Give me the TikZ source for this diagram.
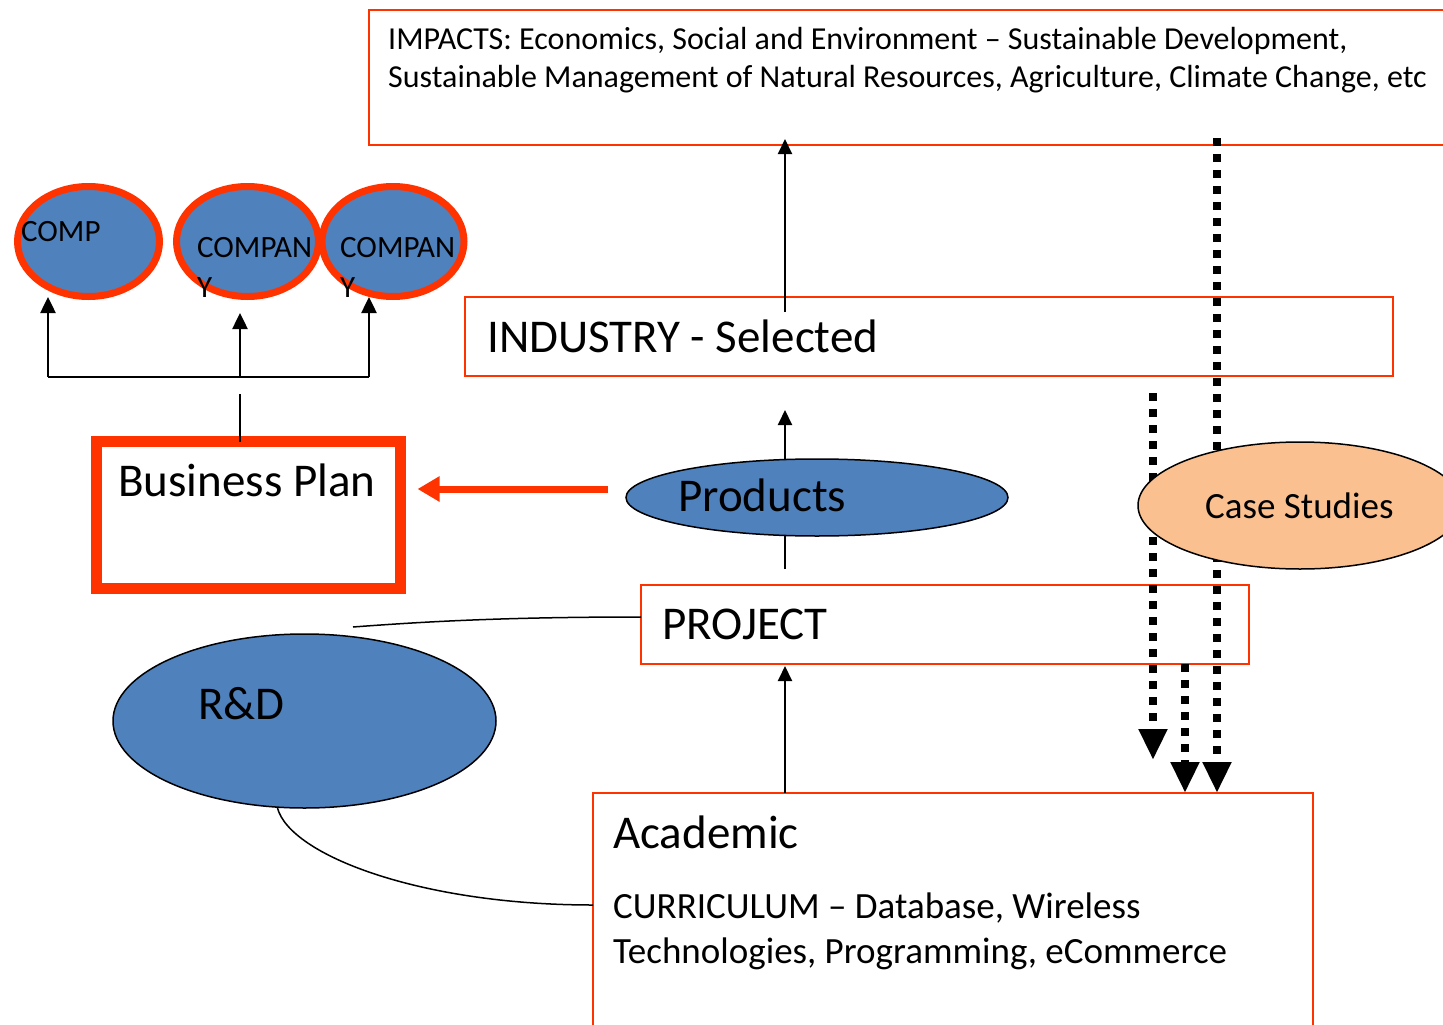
\documentclass[tikz,border=0pt]{standalone}
\usepackage{fontspec}
\setmainfont{Carlito}
\usetikzlibrary{arrows.meta,shapes.geometric,calc}
\definecolor{redor}{RGB}{255,51,0}
\definecolor{blu}{RGB}{79,129,189}
\definecolor{peach}{RGB}{250,192,144}
\begin{document}
\begin{tikzpicture}[x=1pt,y=-1pt,
  box/.style={draw=redor, line width=2pt, rectangle, inner sep=0pt, outer sep=0pt, anchor=north west},
  txt/.style={inner sep=0pt, anchor=base west},
  big/.style={font=\fontsize{47}{56}\selectfont},
  mid/.style={font=\fontsize{37}{45}\selectfont},
  small/.style={font=\fontsize{32}{38}\selectfont},
  comptxt/.style={font=\fontsize{31}{37}\selectfont},
  thinarr/.style={line width=2pt, -{Triangle[width=14pt,length=15pt]}},
  bkline/.style={line width=2.5pt},
  bkarr/.style={line width=2.5pt, -{Triangle[width=15pt,length=16pt]}},
  dotarr/.style={line width=8pt, dash pattern=on 8pt off 8pt, -{Triangle[width=27pt,length=31pt]}},
  redarr/.style={draw=redor, line width=7pt, -{Triangle[width=24pt,length=22pt]}},
  comp/.style={ellipse, draw=redor, line width=7pt, fill=blu, minimum width=142pt, minimum height=110pt, inner sep=0pt, outer sep=0pt},
  blueell/.style={ellipse, draw=black, line width=1.5pt, fill=blu, inner sep=0pt, outer sep=0pt},
  link/.style={line width=1.5pt}
]
\clip (0,0) rectangle (1443,1025);
\fill[white] (0,0) rectangle (1443,1025);

% boxes
\node[box, minimum width=1100pt, minimum height=135pt] (impacts) at (369,10) {};
\node[box, minimum width=928pt, minimum height=79pt] (industry) at (465,297) {};
\node[box, minimum width=608pt, minimum height=79pt] (project) at (641,585) {};
\node[box, minimum width=720pt, minimum height=252pt] (acad) at (593,793) {};
\node[box, line width=11pt, minimum width=304pt, minimum height=147pt] (bp) at (96.5,441.5) {};

% helper coordinates
\coordinate (vx) at (785,0);
\coordinate (xA) at (1217,0);
\coordinate (xB) at (1153,0);
\coordinate (xC) at (1185,0);
\coordinate (k1) at (48,377);
\coordinate (k2) at (240,377);
\coordinate (k3) at (369,377);
\coordinate (k0) at (240,394);
\coordinate (t1) at (48,297);
\coordinate (t2) at (240,313);
\coordinate (t3) at (369,297);
\coordinate (rdline) at (353,627);

% vertical arrows
\draw[thinarr] ($(industry.north -| vx)+(0,15)$) -- ($(impacts.south -| vx)+(0,-6)$);
\draw[thinarr] ($(project.north -| vx)+(0,-16)$) -- ($(industry.south -| vx)+(0,34)$);
\draw[thinarr] (acad.north -| vx) -- ($(project.south -| vx)+(0,2)$);

% dotted arrows
\draw[dotarr] ($(impacts.south -| xA)+(0,-7)$) -- (acad.north -| xA);
\draw[dotarr] ($(industry.south -| xB)+(0,17)$) -- ($(acad.north -| xB)+(0,-33)$);
\draw[dotarr] (project.south -| xC) -- (acad.north -| xC);

% ellipses
\node[blueell, minimum width=382pt, minimum height=77pt] (products) at (817,497.5) {};
\node[blueell, minimum width=383pt, minimum height=174pt] (rd) at (304.5,721) {};
\node[ellipse, draw=black, line width=1.5pt, fill=peach, inner sep=0pt, outer sep=0pt, minimum width=324pt, minimum height=127pt] (cases) at (1300,505.5) {};

% links
\draw[link] ([yshift=7.5pt]project.west) .. controls (500,617) and (420,622) .. (rdline);
\draw[link] ([xshift=-27pt]rd.south) .. controls (290,855) and (420,905) .. ([yshift=14pt]acad.west);

% red arrow
\coordinate (ra) at ($(products.west)+(-18,-8.5)$);
\draw[redarr, shorten >=17pt] (ra) -- (bp.east |- ra);

% bracket
\draw[bkline] (bp.north -| k0) -- (k0);
\draw[bkline] (k1) -- (k3);
\draw[bkarr] (k1) -- (t1);
\draw[bkarr] (k2) -- (t2);
\draw[bkarr] (k3) -- (t3);

% companies
\node[comp] (c1) at (88.5,241.5) {};
\node[comp] (c2) at (247.5,241.5) {};
\node[comp] (c3) at (393,241.5) {};

% texts
\node[txt, small] (imp1) at (388,50) {IMPACTS: Economics, Social and Environment – Sustainable Development,};
\node[txt, small] (imp2) at (388,88) {Sustainable Management of Natural Resources, Agriculture, Climate Change, etc};
\node[txt, big] (indt) at (487,352) {INDUSTRY - Selected};
\node[txt, big] (prodt) at (678,511) {Products};
\node[txt, big] (projt) at (662,639) {PROJECT};
\node[txt, big] (rdt) at (198,719) {R\&D};
\node[txt, big] (bpt) at (118,496) {Business Plan};
\node[txt, big] (acadt) at (613,848) {Academic};
\node[txt, mid] (cur1) at (613,918) {CURRICULUM – Database, Wireless};
\node[txt, mid] (cur2) at (613,963) {Technologies, Programming, eCommerce};
\node[txt, mid] (cst) at (1205,518) {Case Studies};
\node[txt, comptxt] (c1t) at (21,241) {COMP};
\node[txt, comptxt] (c2t) at (197,257) {COMPAN};
\node[txt, comptxt] (c2y) at (197,297) {Y};
\node[txt, comptxt] (c3t) at (340,257) {COMPAN};
\node[txt, comptxt] (c3y) at (340,297) {Y};
\end{tikzpicture}
\end{document}
